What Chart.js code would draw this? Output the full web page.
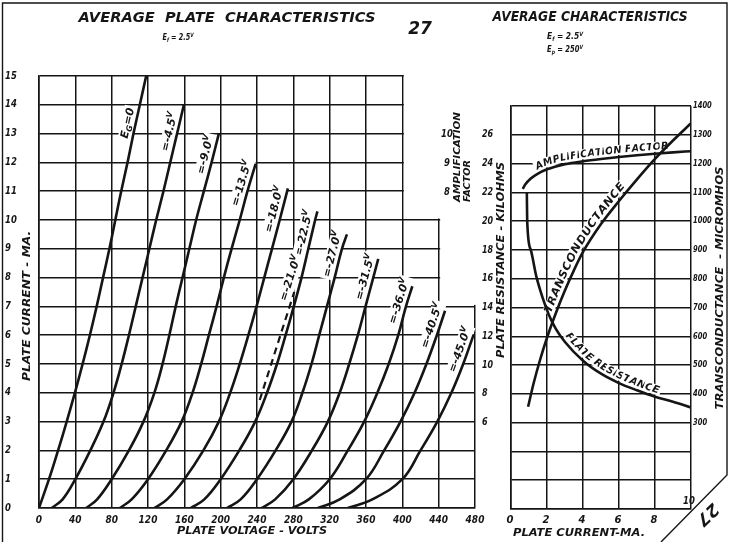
<!DOCTYPE html>
<html>
<head>
<meta charset="utf-8">
<title>27 - average characteristics</title>
<script src="https://cdn.jsdelivr.net/npm/chart.js"></script>
<style>
  html, body { margin: 0; padding: 0; background: #fff; }
  #sheet { position: relative; width: 732px; height: 542px; overflow: hidden; }
  #sheet canvas { position: absolute; left: 0; top: 0; }
</style>
</head>
<body>
<div id="sheet">
  <canvas id="plate-chart" width="732" height="542"></canvas>
  <canvas id="avg-chart" width="732" height="542"></canvas>
</div>
<script>
const INK = "#151515";
const FONT = '"DejaVu Sans", "Liberation Sans", sans-serif';

// ---- left sheet: plate current (mA) against plate voltage, one curve per grid bias ----
const plateVoltTicks = [0, 40, 80, 120, 160, 200, 240, 280, 320, 360, 400, 440, 480];
const plateMaTicks = [0, 1, 2, 3, 4, 5, 6, 7, 8, 9, 10, 11, 12, 13, 14, 15];
const biasNames = ["0", "-4.5", "-9.0", "-13.5", "-18.0", "-22.5", "-27.0", "-31.5", "-36.0", "-40.5", "-45.0"];
const curveVolts = [
    [0, 11, 21, 30.5, 39.5, 48, 56, 63.5, 70.5, 77.5, 84, 90.5, 97.5, 104, 111, 118],
    [14, 26, 40, 56.5, 71, 82, 91, 99, 106.5, 114, 121.5, 129, 137, 144.5, 152, 159.5],
    [52, 64, 80, 99, 115, 127, 136, 143.5, 150.5, 158, 165.5, 173, 181.5, 190, 198],
    [89, 102, 120, 140, 157, 169, 178.5, 187, 195.5, 203.5, 212, 221, 229.5, 238.5],
    [127, 141, 160, 181, 198, 210.5, 221, 230.5, 239.5, 248, 256.5, 265, 274],
    [167, 182, 200, 220.5, 238, 251, 262, 271.5, 280.5, 289, 296.5, 304, 306.5],
    [207, 222, 240, 260.5, 278, 290, 300, 308.5, 317, 325.5, 333.5, 339],
    [245, 260, 280, 300.5, 318, 331, 341.5, 351, 359.5, 368, 373.5],
    [279, 297, 320, 340, 358, 372.5, 385, 395.5, 404, 411],
    [307, 331, 360, 380, 398, 413.5, 426.5, 438, 447],
    [340, 367, 400, 420, 438.5, 454, 467, 478.5]
];
const curveMa = [
    [0, 1, 2, 3, 4, 5, 6, 7, 8, 9, 10, 11, 12, 13, 14, 15],
    [0, 0.3, 1, 2, 3, 4, 5, 6, 7, 8, 9, 10, 11, 12, 13, 14],
    [0, 0.3, 1, 2, 3, 4, 5, 6, 7, 8, 9, 10, 11, 12, 13],
    [0, 0.3, 1, 2, 3, 4, 5, 6, 7, 8, 9, 10, 11, 11.95],
    [0, 0.3, 1, 2, 3, 4, 5, 6, 7, 8, 9, 10, 11.1],
    [0, 0.3, 1, 2, 3, 4, 5, 6, 7, 8, 9, 10, 10.3],
    [0, 0.3, 1, 2, 3, 4, 5, 6, 7, 8, 9, 9.5],
    [0, 0.3, 1, 2, 3, 4, 5, 6, 7, 8, 8.65],
    [0, 0.3, 1, 2, 3, 4, 5, 6, 7, 7.7],
    [0, 0.3, 1, 2, 3, 4, 5, 6, 6.85],
    [0, 0.3, 1, 2, 3, 4, 5, 6.02]
];
// current at which each bias label sits beside its curve
const biasLabelMa = [13.3, 13.0, 12.2, 11.2, 10.3, 9.47, 8.75, 7.95, 7.1, 6.25, 5.4];
// operating-point bias, drawn dashed
const dashedBias = "-21.0";
const dashedVolts = [243, 281];
const dashedMa = [3.75, 7.5];
const dashedLabelMa = 7.9;
// the grid is cut away beyond [volts] above [mA]
const gridCuts = [[400, 10], [440, 7]];

// ---- right sheet: characteristics at Ep = 250 V against plate current ----
const currentTicks = [0, 2, 4, 6, 8, 10];
const resistanceTicks = [6, 8, 10, 12, 14, 16, 18, 20, 22, 24, 26];
const muTicks = [8, 9, 10];
const gmTicks = [300, 400, 500, 600, 700, 800, 900, 1000, 1100, 1200, 1300, 1400];
const muMa = [0.65, 0.8, 1.1, 1.5, 2, 2.5, 3, 4, 5, 6, 7, 8, 9, 10];
const muValues = [8.12, 8.28, 8.48, 8.65, 8.8, 8.9, 8.98, 9.08, 9.16, 9.23, 9.29, 9.34, 9.39, 9.43];
const gmMa = [0.95, 1.25, 1.6, 2, 2.5, 3, 3.5, 4, 5, 6, 7, 8, 9, 10];
const gmValues = [355, 435, 515, 595, 682, 760, 830, 893, 990, 1070, 1145, 1216, 1280, 1340];
const rpMa = [0.88, 0.9, 1.1, 1.4, 1.75, 2.1, 2.5, 3, 4, 5, 6, 7, 8, 9, 10];
const rpValues = [22, 20, 18, 16.2, 14.7, 13.5, 12.5, 11.6, 10.3, 9.4, 8.75, 8.25, 7.8, 7.45, 7.05];

function font(size) {
    return `italic bold ${size}px ${FONT}`;
}

// parts: a string, or [text, "" | "sub" | "sup"] pairs
function drawText(ctx, parts, x, y, o = {}) {
    const size = o.size || 10;
    const segs = typeof parts === "string" ? [[parts, ""]] : parts;
    const fontOf = (k) => font(k ? Math.round(size * 0.7) : size);
    ctx.save();
    ctx.translate(x, y);
    if (o.angle) ctx.rotate(o.angle * Math.PI / 180);
    ctx.textBaseline = "middle";
    ctx.textAlign = "left";
    let natural = 0;
    for (const [t, k] of segs) {
        ctx.font = fontOf(k);
        natural += ctx.measureText(t).width;
    }
    const sx = o.width ? o.width / natural : (o.sx || 1);
    const total = natural * sx;
    let cx = o.align === "left" ? 0 : o.align === "right" ? -total : -total / 2;
    if (o.bg) {
        ctx.fillStyle = "#fff";
        ctx.fillRect(cx - 2, -size * 0.55 - 1, total + 4, size * 1.1 + 2);
    }
    ctx.fillStyle = INK;
    for (const [t, k] of segs) {
        ctx.font = fontOf(k);
        const dy = k === "sub" ? size * 0.28 : k === "sup" ? -size * 0.34 : 0;
        const w = ctx.measureText(t).width;
        ctx.save();
        ctx.translate(cx, dy);
        ctx.scale(sx, 1);
        ctx.fillText(t, 0, 0);
        ctx.restore();
        cx += w * sx;
    }
    ctx.restore();
}

function pixelPoints(chart, index) {
    return chart.getDatasetMeta(index).data.map((el) => ({ x: el.x, y: el.y }));
}

// point on a rising curve at pixel height py (extends the last segment if needed)
function pointAtY(pts, py) {
    for (let i = 1; i < pts.length; i++) {
        const a = pts[i - 1], b = pts[i];
        if (b.y <= py || i === pts.length - 1) {
            const t = (py - a.y) / (b.y - a.y);
            return { x: a.x + t * (b.x - a.x), y: py, ang: Math.atan2(b.y - a.y, b.x - a.x) };
        }
    }
}

// letters laid along a curve, on its left-hand side
function textOnPath(ctx, pts, str, startX, offset, size, length) {
    const cum = [0];
    for (let i = 1; i < pts.length; i++)
        cum.push(cum[i - 1] + Math.hypot(pts[i].x - pts[i - 1].x, pts[i].y - pts[i - 1].y));
    const at = (s) => {
        let i = 1;
        while (i < pts.length - 1 && cum[i] < s) i++;
        const t = (s - cum[i - 1]) / (cum[i] - cum[i - 1]);
        return { x: pts[i - 1].x + t * (pts[i].x - pts[i - 1].x), y: pts[i - 1].y + t * (pts[i].y - pts[i - 1].y) };
    };
    let s0 = 0;
    for (let i = 1; i < pts.length; i++) {
        if (pts[i].x >= startX) {
            const t = (startX - pts[i - 1].x) / (pts[i].x - pts[i - 1].x);
            s0 = cum[i - 1] + t * (cum[i] - cum[i - 1]);
            break;
        }
    }
    ctx.save();
    ctx.font = font(size);
    const sx = length ? length / ctx.measureText(str).width : 1;
    let s = s0;
    for (const ch of str) {
        const w = ctx.measureText(ch).width;
        const mid = s + w * sx / 2;
        const p = at(mid), p1 = at(mid - 6), p2 = at(mid + 6);
        const a = Math.atan2(p2.y - p1.y, p2.x - p1.x);
        ctx.save();
        ctx.translate(p.x + Math.sin(a) * offset, p.y - Math.cos(a) * offset);
        ctx.rotate(a);
        ctx.scale(sx, 1);
        if (ch !== " ") {
            ctx.fillStyle = "#fff";
            ctx.fillRect(-w / 2 - 1.5, -size * 0.8, w + 3, size * 0.8 + 2);
        }
        ctx.fillStyle = INK;
        ctx.textAlign = "center";
        ctx.textBaseline = "alphabetic";
        ctx.fillText(ch, 0, 0);
        ctx.restore();
        s += w * sx;
    }
    ctx.restore();
}

function linearAxis(min, max, step) {
    return {
        type: "linear",
        min: min,
        max: max,
        ticks: { stepSize: step, display: false },
        grid: { color: INK, lineWidth: 1.5, drawTicks: false },
        border: { display: true, color: INK, width: 1.6 },
        afterFit: (s) => {
            if (s.isHorizontal()) s.height = 0;
            else s.width = 0;
        }
    };
}

const curveStyle = {
    borderColor: INK,
    borderWidth: 2.6,
    pointRadius: 0,
    fill: false,
    tension: 0.4
};

const plateSheet = {
    id: "plateSheet",
    beforeDatasetsDraw(chart) {
        const ctx = chart.ctx, xs = chart.scales.x, ys = chart.scales.y;
        ctx.save();
        ctx.fillStyle = "#fff";
        gridCuts.forEach(([v, ma]) => {
            ctx.fillRect(xs.getPixelForValue(v) + 1.5, 0, 120, ys.getPixelForValue(ma) - 1.5);
        });
        ctx.restore();
        const place = (index, ma, parts) => {
            const p = pointAtY(pixelPoints(chart, index), ys.getPixelForValue(ma));
            const d = 7.5;
            drawText(ctx, parts, p.x + Math.sin(p.ang) * d, p.y - Math.cos(p.ang) * d,
                { size: 11, angle: p.ang * 180 / Math.PI, bg: true });
        };
        biasNames.forEach((b, i) => {
            const parts = b === "0" ? [["E", ""], ["G", "sub"], ["=0", ""]] : [["=" + b, ""], ["V", "sup"]];
            place(i, biasLabelMa[i], parts);
        });
        place(biasNames.length, dashedLabelMa, [["=" + dashedBias, ""], ["V", "sup"]]);
    },
    afterDraw(chart) {
        const ctx = chart.ctx, xs = chart.scales.x, ys = chart.scales.y;
        plateMaTicks.forEach((t) => drawText(ctx, String(t), 5, ys.getPixelForValue(t), { size: 10, align: "left", sx: 0.85 }));
        plateVoltTicks.forEach((t) => drawText(ctx, String(t), xs.getPixelForValue(t), 520, { size: 10, sx: 0.9 }));
        drawText(ctx, "PLATE CURRENT - MA.", 27, 306, { size: 11, angle: -90, width: 150 });
        drawText(ctx, "PLATE VOLTAGE - VOLTS", 252, 531, { size: 11, width: 150 });
        drawText(ctx, "AVERAGE  PLATE  CHARACTERISTICS", 227, 18, { size: 14, width: 297 });
        drawText(ctx, [["E", ""], ["f", "sub"], [" = 2.5", ""], ["V", "sup"]], 178, 38, { size: 9, width: 31 });
        drawText(ctx, "27", 420, 30, { size: 17 });
    }
};

const avgSheet = {
    id: "avgSheet",
    beforeDatasetsDraw(chart) {
        const ctx = chart.ctx, xs = chart.scales.x;
        textOnPath(ctx, pixelPoints(chart, 0), "AMPLIFICATION FACTOR", xs.getPixelForValue(1.55), 4, 10, 130);
        textOnPath(ctx, pixelPoints(chart, 1), "TRANSCONDUCTANCE", xs.getPixelForValue(2.45), 4.5, 11, 146);
        textOnPath(ctx, pixelPoints(chart, 2), "PLATE RESISTANCE", xs.getPixelForValue(2.85), 4, 10, 112);
    },
    afterDraw(chart) {
        const ctx = chart.ctx, xs = chart.scales.x, ys = chart.scales.y;
        const mus = chart.scales.mu, gms = chart.scales.gm;
        currentTicks.forEach((t) => {
            if (t === 10) drawText(ctx, "10", xs.getPixelForValue(t) - 2, 501, { size: 10, sx: 0.85 });
            else drawText(ctx, String(t), xs.getPixelForValue(t) - 1, 520, { size: 10 });
        });
        resistanceTicks.forEach((t) => drawText(ctx, String(t), 482, ys.getPixelForValue(t), { size: 10, align: "left", sx: 0.8 }));
        muTicks.forEach((t) => drawText(ctx, String(t), 447, mus.getPixelForValue(t), { size: 10, sx: 0.85 }));
        gmTicks.forEach((t) => drawText(ctx, String(t), 693, gms.getPixelForValue(t), { size: 9, align: "left", sx: 0.75 }));
        drawText(ctx, "AMPLIFICATION", 458, 202, { size: 9, angle: -90, align: "left", width: 90 });
        drawText(ctx, "FACTOR", 468, 202, { size: 9, angle: -90, align: "left", width: 42 });
        drawText(ctx, "PLATE RESISTANCE - KILOHMS", 501, 260, { size: 11, angle: -90, width: 196 });
        drawText(ctx, "TRANSCONDUCTANCE  - MICROMHOS", 720, 288, { size: 11, angle: -90, width: 243 });
        drawText(ctx, "PLATE CURRENT-MA.", 579, 533, { size: 11, width: 132 });
        drawText(ctx, "AVERAGE CHARACTERISTICS", 590, 17, { size: 14, width: 195 });
        drawText(ctx, [["E", ""], ["f", "sub"], [" = 2.5", ""], ["V", "sup"]], 565, 37, { size: 9, width: 36 });
        drawText(ctx, [["E", ""], ["p", "sub"], [" = 250", ""], ["V", "sup"]], 565, 50, { size: 9, width: 36 });

        // sheet border with the cut corner
        ctx.save();
        ctx.strokeStyle = INK;
        ctx.lineWidth = 1.4;
        ctx.beginPath();
        ctx.moveTo(2.5, 542);
        ctx.lineTo(2.5, 3);
        ctx.lineTo(727, 3);
        ctx.lineTo(727, 475);
        ctx.lineTo(661, 542);
        ctx.stroke();
        ctx.restore();
        drawText(ctx, "27", 707, 514, { size: 17, angle: 136 });
    }
};

const plateDatasets = biasNames.map((b, i) => Object.assign({
    label: "Eg = " + b + " V",
    data: curveVolts[i].map((v, j) => ({ x: v, y: curveMa[i][j] }))
}, curveStyle));
plateDatasets.push(Object.assign({}, curveStyle, {
    label: "Eg = " + dashedBias + " V",
    data: dashedVolts.map((v, j) => ({ x: v, y: dashedMa[j] })),
    borderDash: [7, 5],
    borderWidth: 2.2,
    tension: 0
}));

new Chart(document.getElementById("plate-chart"), {
    type: "line",
    data: { datasets: plateDatasets },
    options: {
        responsive: false,
        animation: false,
        events: [],
        layout: { padding: { left: 39, top: 76, right: 257, bottom: 34 } },
        scales: { x: linearAxis(0, 480, 40), y: linearAxis(0, 15, 1) },
        plugins: { legend: { display: false }, tooltip: { enabled: false } }
    },
    plugins: [plateSheet]
});

const avgStyle = Object.assign({}, curveStyle, { tension: 0, cubicInterpolationMode: "monotone" });

new Chart(document.getElementById("avg-chart"), {
    type: "line",
    data: {
        datasets: [
            Object.assign({ label: "Amplification factor", yAxisID: "mu",
                data: muMa.map((m, j) => ({ x: m, y: muValues[j] })) }, avgStyle),
            Object.assign({ label: "Transconductance", yAxisID: "gm",
                data: gmMa.map((m, j) => ({ x: m, y: gmValues[j] })) }, avgStyle),
            Object.assign({ label: "Plate resistance", yAxisID: "y",
                data: rpMa.map((m, j) => ({ x: m, y: rpValues[j] })) }, avgStyle)
        ]
    },
    options: {
        responsive: false,
        animation: false,
        events: [],
        layout: { padding: { left: 511, top: 106, right: 41, bottom: 33 } },
        scales: {
            x: linearAxis(0, 10, 2),
            y: linearAxis(0, 28, 2),
            mu: { type: "linear", min: -3, max: 11, display: false },
            gm: { type: "linear", min: 0, max: 1400, display: false }
        },
        plugins: { legend: { display: false }, tooltip: { enabled: false } }
    },
    plugins: [avgSheet]
});
</script>
</body>
</html>
